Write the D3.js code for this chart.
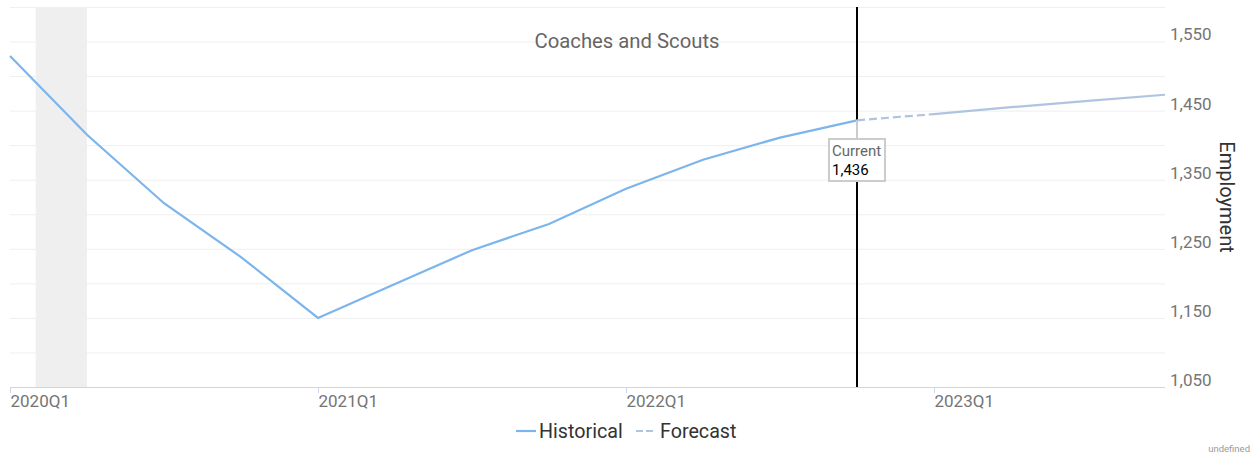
<!DOCTYPE html>
<html><head><meta charset="utf-8">
<script src="https://cdn.jsdelivr.net/npm/d3@7"></script>
<style>body{margin:0;background:#fff;font-family:Roboto,"Noto Sans",sans-serif;}</style>
</head><body><svg id="c" width="1253" height="454"></svg>
<script>
const quarters = ["2020Q1","2020Q2","2020Q3","2020Q4","2021Q1","2021Q2","2021Q3","2021Q4","2022Q1","2022Q2","2022Q3","2022Q4","2023Q1","2023Q2","2023Q3","2023Q4"];
const historical = [1529,1415,1316,1238,1150,1199,1248,1286,1337,1379,1411,1436];
const forecast = [1436,1445,1455,1464,1473];
const forecastStart = 11;
const yLabelTicks = [1050,1150,1250,1350,1450,1550];
const yGridTicks = [1050,1100,1150,1200,1250,1300,1350,1400,1450,1500,1550,1600];
const xLabelTicks = ["2020Q1","2021Q1","2022Q1","2023Q1"];
const recession = [1/3, 1];
const currentIndex = 11;
const currentValue = 1436;

const svg = d3.select("#c");
const x = d3.scaleLinear().domain([0, quarters.length-1]).range([10,1165]);
const y = d3.scaleLinear().domain([1050,1600]).range([387,7]);

// recession shading
svg.append("rect").attr("x", x(recession[0])).attr("y", y(1600))
  .attr("width", x(recession[1]) - x(recession[0])).attr("height", y(1050)-y(1600))
  .attr("fill", "#efefef");

// grid
svg.append("g").selectAll("line").data(yGridTicks.filter(d=>d>1050)).join("line")
  .attr("x1", 10).attr("x2", 1165).attr("y1", d=>y(d)+0.5).attr("y2", d=>y(d)+0.5)
  .attr("stroke", "#efefef").attr("stroke-width", 1);

// y labels
const yAxis = d3.axisRight(y).tickValues(yLabelTicks).tickFormat(d3.format(",")).tickSize(0).tickPadding(0);
const gy = svg.append("g").attr("transform", "translate(1170,-7)").call(yAxis);
gy.select(".domain").remove();
gy.selectAll("text").attr("fill", "#757575").style("font-size", "17px").style("font-family", "Roboto");

// x axis
const xAxis = d3.axisBottom(x).tickValues(xLabelTicks.map(q=>quarters.indexOf(q))).tickFormat(i=>quarters[i]).tickSize(6).tickPadding(2);
const gx = svg.append("g").attr("transform", "translate(0,387)").call(xAxis);
gx.select(".domain").attr("stroke", "#ccd6eb").attr("d", "M10,0.5H1165");
gx.selectAll(".tick line").attr("stroke", "#ccd6eb");
gx.selectAll("text").attr("fill", "#757575").attr("text-anchor", "start").attr("dx", 0)
  .style("font-size", "17px").style("font-family", "Roboto");

// title
svg.append("text").attr("x", 627).attr("y", 48).attr("text-anchor", "middle")
  .attr("fill", "#666").style("font-size", "20.3px").text("Coaches and Scouts");

// axis title
svg.append("text").attr("transform", "translate(1220,197) rotate(90)").attr("text-anchor", "middle")
  .attr("fill", "#333").style("font-size", "20px").text("Employment");

// vertical current line
svg.append("line").attr("x1", x(currentIndex)).attr("x2", x(currentIndex)).attr("y1", 7).attr("y2", 387)
  .attr("stroke", "#000").attr("stroke-width", 2);

// lines
const line = d3.line().x(d=>x(d[0])).y(d=>y(d[1]));
svg.append("path").datum(historical.map((v,i)=>[i,v])).attr("d", line)
  .attr("fill", "none").attr("stroke", "#7cb5ec").attr("stroke-width", 2.2);
const fc = forecast.map((v,i)=>[forecastStart+i, v]);
svg.append("path").datum(fc.slice(0,2)).attr("d", line)
  .attr("fill", "none").attr("stroke", "#aec4e0").attr("stroke-width", 2.2).attr("stroke-dasharray", "8,4");
svg.append("path").datum(fc.slice(1)).attr("d", line)
  .attr("fill", "none").attr("stroke", "#aec4e0").attr("stroke-width", 2.2);

// current label
const cx = x(currentIndex), cy = y(currentValue);
svg.append("line").attr("x1", cx).attr("x2", cx).attr("y1", cy).attr("y2", 139).attr("stroke", "#ccc").attr("stroke-width", 2);
svg.append("rect").attr("x", cx-28).attr("y", 139).attr("width", 56).attr("height", 42)
  .attr("fill", "#fff").attr("stroke", "#ccc").attr("stroke-width", 2);
svg.append("text").attr("x", cx-25).attr("y", 156).attr("fill", "#666").style("font-size", "15px").text("Current");
svg.append("text").attr("x", cx-25).attr("y", 175).attr("fill", "#000").style("font-size", "15px").text(d3.format(",")(currentValue));

// legend
const lg = svg.append("g");
lg.append("line").attr("x1", 516).attr("x2", 536).attr("y1", 431).attr("y2", 431).attr("stroke", "#7cb5ec").attr("stroke-width", 2.2);
lg.append("text").attr("x", 539).attr("y", 438).attr("fill", "#333").style("font-size", "19.7px").text("Historical");
lg.append("line").attr("x1", 636).attr("x2", 656).attr("y1", 431).attr("y2", 431).attr("stroke", "#aec4e0").attr("stroke-width", 2.2).attr("stroke-dasharray", "7,3");
lg.append("text").attr("x", 660).attr("y", 438).attr("fill", "#333").style("font-size", "19.7px").text("Forecast");

svg.append("text").attr("x", 1250).attr("y", 452).attr("text-anchor", "end").attr("fill", "#999")
  .style("font-size", "9.5px").text("undefined");
</script></body></html>
